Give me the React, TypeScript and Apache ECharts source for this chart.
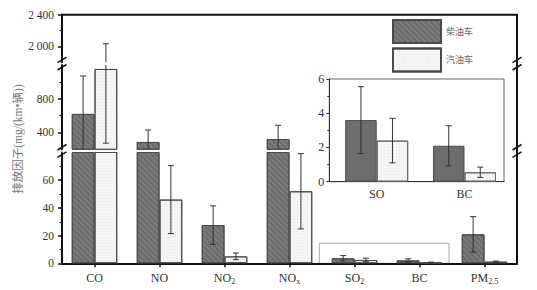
import React, { useEffect, useRef } from 'react';
import * as echarts from 'echarts';

// ---- data ----
const categories = ['CO', 'NO', 'NO2', 'NOx', 'SO2', 'BC', 'PM2.5'];
const dieselMean = [620, 287, 27.6, 322, 3.6, 2.1, 20.9];
const dieselSd = [450, 142, 13.9, 163, 1.95, 1.17, 12.8];
const gasolineMean = [1153, 46, 5.0, 52, 2.4, 0.55, 1.2];
const gasolineSd = [880, 24.5, 2.4, 27.2, 1.3, 0.3, 0.4];
const seriesNames = ['柴油车', '汽油车'];
const insetCategories = ['SO', 'BC'];
const insetIndex = [4, 5];

// axis segments (broken axis): top, middle, bottom
const segMin = [1800, 200, 0];
const segMax = [2400, 1200, 80];
const segLabels = [[2000, 2400], [400, 800], [0, 20, 40, 60]];
const segMinorTicks = [[2200], [600, 1000], [10, 30, 50, 70]];
const insetMax = 6;
const insetInterval = 2;
const yAxisName = '排放因子(mg/(km•辆))';

const serif = "'Liberation Serif', 'Times New Roman', serif";
const cjk = "'Noto Sans CJK SC', sans-serif";

const dieselColor = '#6d6d6d';
const gasolineColor = '#f5f5f5';
const borderColor = '#4a4a4a';

const dieselDecal = {
  symbol: 'rect',
  symbolSize: 1,
  color: 'rgba(255,255,255,0.16)',
  dashArrayX: [1, 0],
  dashArrayY: [1, 3],
  rotation: Math.PI / 4,
};
const gasolineDecal = {
  symbol: 'rect',
  symbolSize: 1,
  color: 'rgba(0,0,0,0.06)',
  dashArrayX: [1, 2],
  dashArrayY: [1, 2],
  rotation: 0,
};

const fmtNum = (v: number) => String(v).replace(/\B(?=(\d{3})+(?!\d))/g, ' ');
const subLabel = (v: string) => {
  const m = v.match(/^([A-Z]+)([0-9.x]+)$/);
  return m ? `{main|${m[1]}}{sub|${m[2]}}` : `{main|${v}}`;
};

const makeErr = (sign: number, fixedHalf?: number) => (params: any, api: any) => {
  const x = api.value(0);
  const m = api.value(1);
  const s = api.value(2);
  const c = api.coord([x, m]);
  const half = fixedHalf != null ? fixedHalf : api.size([1, 0])[0] * 0.175;
  const cx = c[0] + sign * half;
  const yTop = api.coord([x, m + s])[1];
  const yBot = api.coord([x, m - s])[1];
  const cap = 3;
  const st = { stroke: '#333', lineWidth: 1 };
  return {
    type: 'group',
    children: [
      { type: 'line', shape: { x1: cx, y1: yTop, x2: cx, y2: yBot }, style: st },
      { type: 'line', shape: { x1: cx - cap, y1: yTop, x2: cx + cap, y2: yTop }, style: st },
      { type: 'line', shape: { x1: cx - cap, y1: yBot, x2: cx + cap, y2: yBot }, style: st },
    ],
  };
};

const breakMark = (x: number, y: number) => [
  { type: 'line', shape: { x1: x - 4.5, y1: y - 0.9, x2: x + 4.5, y2: y - 6.4 }, style: { stroke: '#111', lineWidth: 1.5 } },
  { type: 'line', shape: { x1: x - 4.5, y1: y + 6.4, x2: x + 4.5, y2: y + 0.9 }, style: { stroke: '#111', lineWidth: 1.5 } },
];

export default function App() {
  const ref = useRef<HTMLDivElement>(null);
  useEffect(() => {
    if (!ref.current) return;
    const chart = echarts.init(ref.current, null, { renderer: 'svg' });

    const L = 62;
    const W = 455;
    const grids = [
      { left: L, top: 14.7, width: W, height: 47.5 },
      { left: L, top: 65, width: W, height: 84.3 },
      { left: L, top: 152.5, width: W, height: 110.8 },
    ];
    const insetGrid = { left: 329.3, top: 79, width: 174.7, height: 102.7 };
    const insetBarW = 31.5;

    const xAxes: any[] = grids.map((_, g) => ({
      type: 'category',
      gridIndex: g,
      data: categories,
      show: g === 2,
      axisLine: { show: true, lineStyle: { color: '#111', width: 2 } },
      axisTick: { show: true, alignWithLabel: true, interval: 0, length: 4, lineStyle: { color: '#111', width: 1.5 } },
      axisLabel: {
        interval: 0,
        margin: 8,
        formatter: (v: string) => subLabel(v),
        rich: {
          main: { fontSize: 12, fontFamily: serif, color: '#333', lineHeight: 14 },
          sub: { fontSize: 8, fontFamily: serif, color: '#333', lineHeight: 8, verticalAlign: 'bottom', padding: [4, 0, 0, 0] },
        },
      },
      splitLine: { show: false },
    }));
    xAxes.push({
      type: 'value',
      gridIndex: 3,
      min: -0.54,
      max: 1.45,
      axisLine: { show: true, onZero: false, lineStyle: { color: '#333', width: 1 } },
      axisTick: { show: false },
      splitLine: { show: false },
      axisLabel: {
        customValues: [0, 1],
        formatter: (v: number) => insetCategories[Math.round(v)] ?? '',
        color: '#333',
        fontSize: 12,
        fontFamily: serif,
        margin: 6,
      },
    });

    const yAxes: any[] = grids.map((_, g) => ({
      type: 'value',
      gridIndex: g,
      position: 'left',
      min: segMin[g],
      max: segMax[g],
      axisLine: { show: true, onZero: false, lineStyle: { color: '#111', width: 2 } },
      axisTick: { show: true, length: 4, customValues: segLabels[g], lineStyle: { color: '#111', width: 1.5 } },
      axisLabel: {
        customValues: segLabels[g],
        formatter: (v: number) => fmtNum(v),
        color: '#333',
        fontSize: 11.5,
        fontFamily: serif,
        margin: 8,
      },
      splitLine: { show: false },
    }));
    yAxes.push({
      type: 'value',
      gridIndex: 3,
      position: 'left',
      min: 0,
      max: insetMax,
      interval: insetInterval,
      axisLine: { show: true, onZero: false, lineStyle: { color: '#333', width: 1 } },
      axisTick: { show: true, length: 3, lineStyle: { color: '#333' } },
      minorTick: { show: true, splitNumber: 2, length: 2, lineStyle: { color: '#333' } },
      axisLabel: { color: '#333', fontSize: 12, fontFamily: serif, margin: 5 },
      splitLine: { show: false },
    });
    grids.forEach((_, g) => {
      yAxes.push({
        type: 'value',
        gridIndex: g,
        position: 'left',
        min: segMin[g],
        max: segMax[g],
        axisLine: { show: false, onZero: false },
        axisTick: { show: true, length: 2.5, customValues: segMinorTicks[g], lineStyle: { color: '#111', width: 1.2 } },
        axisLabel: { show: false },
        splitLine: { show: false },
      });
    });

    const means = [dieselMean, gasolineMean];
    const sds = [dieselSd, gasolineSd];
    const colors = [dieselColor, gasolineColor];
    const decals = [dieselDecal, gasolineDecal];

    const series: any[] = [];
    grids.forEach((_, g) => {
      [0, 1].forEach((k) => {
        series.push({
          type: 'bar',
          name: seriesNames[k],
          xAxisIndex: g,
          yAxisIndex: g,
          barGap: '0%',
          barCategoryGap: '30%',
          clip: true,
          itemStyle: { color: colors[k], borderColor, borderWidth: 1, decal: decals[k] },
          emphasis: { disabled: true },
          data: means[k].map((v) => (g === 2 || v > segMin[g] ? v : '-')),
        });
      });
    });
    grids.forEach((_, g) => {
      [0, 1].forEach((k) => {
        series.push({
          type: 'custom',
          name: seriesNames[k] + '误差',
          xAxisIndex: g,
          yAxisIndex: g,
          clip: true,
          z: 3,
          encode: { x: 0, y: 1 },
          renderItem: makeErr(k === 0 ? -1 : 1),
          data: categories.map((_, i) => [i, means[k][i], sds[k][i]]),
        });
      });
    });
    // inset
    [0, 1].forEach((k) => {
      series.push({
        type: 'bar',
        name: 'inset' + k,
        xAxisIndex: 3,
        yAxisIndex: 3,
        barWidth: insetBarW,
        barGap: '0%',
        itemStyle: k === 0
          ? { color: dieselColor, borderColor, borderWidth: 1 }
          : { color: gasolineColor, borderColor: '#666', borderWidth: 1, decal: gasolineDecal },
        emphasis: { disabled: true },
        data: insetIndex.map((idx, j) => [j, means[k][idx]]),
      });
    });
    [0, 1].forEach((k) => {
      series.push({
        type: 'custom',
        name: 'insetErr' + k,
        xAxisIndex: 3,
        yAxisIndex: 3,
        clip: true,
        z: 3,
        encode: { x: 0, y: 1 },
        renderItem: makeErr(k === 0 ? -1 : 1, insetBarW / 2),
        data: insetIndex.map((idx, j) => [j, means[k][idx], sds[k][idx]]),
      });
    });

    const graphic: any[] = [
      { type: 'line', shape: { x1: 61, y1: 14.7, x2: 518, y2: 14.7 }, style: { stroke: '#111', lineWidth: 2 } },
      { type: 'line', shape: { x1: 517, y1: 14.7, x2: 517, y2: 263.3 }, style: { stroke: '#111', lineWidth: 2 } },
      ...breakMark(62, 63.6),
      ...breakMark(62, 150.9),
      ...breakMark(517, 63.6),
      ...breakMark(517, 150.9),
      { type: 'rect', shape: { x: 319.3, y: 243.3, width: 129.7, height: 20 }, style: { fill: 'none', stroke: '#aaa', lineWidth: 1 } },
      {
        type: 'text',
        x: 18,
        y: 139,
        rotation: Math.PI / 2,
        style: {
          text: yAxisName,
          fill: '#777',
          fontSize: 11.5,
          fontFamily: `'Liberation Serif', 'Noto Sans CJK SC', serif`,
          align: 'center',
          verticalAlign: 'middle',
        },
      },
    ];

    chart.setOption({
      animation: false,
      backgroundColor: '#fff',
      grid: [
        ...grids.map((g) => ({ ...g, outerBoundsMode: 'none' })),
        { ...insetGrid, show: true, borderColor: '#666', borderWidth: 1, backgroundColor: '#fff', outerBoundsMode: 'none' },
      ],
      legend: {
        data: seriesNames,
        left: 392,
        top: 19,
        orient: 'vertical',
        padding: 0,
        itemWidth: 48,
        itemHeight: 23,
        itemGap: 3.4,
        icon: 'rect',
        selectedMode: false,
        textStyle: { color: '#666', fontSize: 9, fontFamily: cjk },
      },
      xAxis: xAxes,
      yAxis: yAxes,
      series,
      graphic,
    } as any);

    return () => chart.dispose();
  }, []);

  return <div ref={ref} style={{ position: 'absolute', left: 0, top: 0, width: 537, height: 290 }} />;
}
